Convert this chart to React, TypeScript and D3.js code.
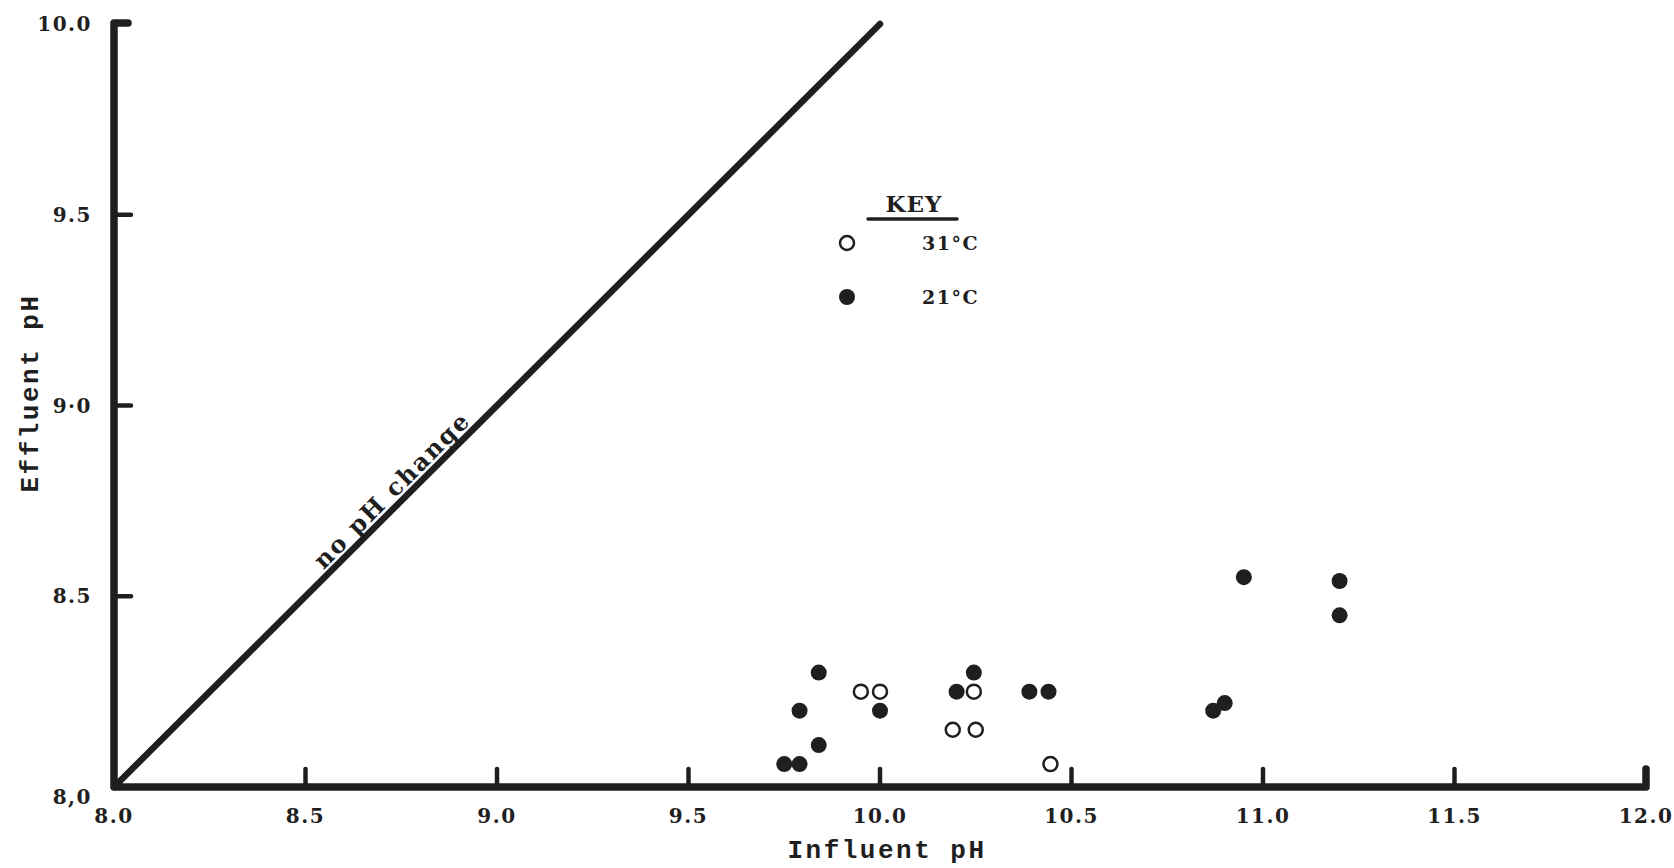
import React from "react";
import * as d3 from "d3";

// Influent vs effluent pH, two temperatures
const warmInfluent = [9.95, 10.0, 10.245, 10.19, 10.25, 10.445];
const warmEffluent = [8.25, 8.25, 8.25, 8.15, 8.15, 8.06];

const coolInfluent = [9.75, 9.79, 9.84, 9.79, 9.84, 10.0, 10.2, 10.245, 10.39, 10.44, 10.87, 10.9, 10.95, 11.2, 11.2];
const coolEffluent = [8.06, 8.06, 8.11, 8.2, 8.3, 8.2, 8.25, 8.3, 8.25, 8.25, 8.2, 8.22, 8.55, 8.54, 8.45];

const xTicks = [8.0, 8.5, 9.0, 9.5, 10.0, 10.5, 11.0, 11.5, 12.0];
const xTickLabels = ["8.0", "8.5", "9.0", "9.5", "10.0", "10.5", "11.0", "11.5", "12.0"];
const yTicks = [8.0, 8.5, 9.0, 9.5, 10.0];
const yTickLabels = ["8,0", "8.5", "9·0", "9.5", "10.0"];

const legendLabels = ["31°C", "21°C"];

const W = 1674;
const H = 868;
const INK = "#1f1f1f";
const SERIF = "'DejaVu Serif', 'Liberation Serif', serif";
const MONO = "'Liberation Mono', 'DejaVu Sans Mono', monospace";

export default function App() {
  const x = d3.scaleLinear().domain([8, 12]).range([114, 1646]);
  const y = d3.scaleLinear().domain([8, 10]).range([787, 24]);

  const axisPath = d3.path();
  axisPath.moveTo(x(8) + 14, y(10) - 1);
  axisPath.lineTo(x(8), y(10) - 1);
  axisPath.lineTo(x(8), y(8));
  axisPath.lineTo(x(12), y(8));
  axisPath.lineTo(x(12), y(8) - 18);

  const diag = d3.line<number>().x((v) => x(v)).y((v) => y(v));
  const labelAt = 8.75;

  return (
    <svg
      width={W}
      height={H}
      viewBox={`0 0 ${W} ${H}`}
      style={{ position: "absolute", left: 0, top: 0, background: "#fff" }}
    >
      <rect x={0} y={0} width={W} height={H} fill="#fff" />

      {/* no-change reference line */}
      <path d={diag([8, 10]) || ""} stroke={INK} strokeWidth={6.5} strokeLinecap="round" fill="none" />
      <g transform={`translate(${x(labelAt)},${y(labelAt)}) rotate(-45)`}>
        <text
          y={-6}
          textAnchor="middle"
          fontFamily={SERIF}
          fontSize={24}
          fontWeight={700}
          fill={INK}
          textLength={208}
          lengthAdjust="spacing"
        >
          no pH change
        </text>
      </g>

      {/* axes */}
      <path d={axisPath.toString()} stroke={INK} strokeWidth={7.5} fill="none" strokeLinejoin="round" strokeLinecap="round" />
      {xTicks.slice(1, -1).map((t) => (
        <line key={`xt${t}`} x1={x(t)} x2={x(t)} y1={y(8)} y2={y(8) - 18} stroke={INK} strokeWidth={4.5} strokeLinecap="round" />
      ))}
      {yTicks.slice(1, -1).map((t) => (
        <line key={`yt${t}`} x1={x(8)} x2={x(8) + 17} y1={y(t)} y2={y(t)} stroke={INK} strokeWidth={4.5} strokeLinecap="round" />
      ))}

      {/* tick labels */}
      {xTicks.map((t, i) => (
        <text
          key={`xl${t}`}
          x={x(t)}
          y={823}
          textAnchor="middle"
          fontFamily={SERIF}
          fontSize={20}
          fontWeight={700}
          letterSpacing={1.5}
          fill={INK}
        >
          {xTickLabels[i]}
        </text>
      ))}
      {yTicks.map((t, i) => (
        <text
          key={`yl${t}`}
          x={92}
          y={y(t) + (t === 8 ? 10 : 0)}
          dy="0.36em"
          textAnchor="end"
          fontFamily={SERIF}
          fontSize={20}
          fontWeight={700}
          letterSpacing={1.5}
          fill={INK}
        >
          {yTickLabels[i]}
        </text>
      ))}

      {/* axis titles */}
      <text
        x={887}
        y={858}
        textAnchor="middle"
        fontFamily={MONO}
        fontSize={26}
        fontWeight={700}
        letterSpacing={2.5}
        fill={INK}
      >
        Influent pH
      </text>
      <g transform="translate(38,393) rotate(-90)">
        <text
          textAnchor="middle"
          fontFamily={MONO}
          fontSize={26}
          fontWeight={700}
          letterSpacing={2.5}
          fill={INK}
        >
          Effluent pH
        </text>
      </g>

      {/* data */}
      {warmInfluent.map((v, i) => (
        <circle
          key={`w${i}`}
          cx={x(v)}
          cy={y(warmEffluent[i])}
          r={7}
          fill="#fff"
          stroke={INK}
          strokeWidth={2.5}
        />
      ))}
      {coolInfluent.map((v, i) => (
        <circle key={`c${i}`} cx={x(v)} cy={y(coolEffluent[i])} r={8} fill={INK} />
      ))}

      {/* key */}
      <text x={914} y={212} textAnchor="middle" fontFamily={SERIF} fontSize={23} fontWeight={700} fill={INK} letterSpacing={1}>
        KEY
      </text>
      <line x1={868} x2={957} y1={219} y2={219} stroke={INK} strokeWidth={3.5} strokeLinecap="round" />
      <circle cx={847} cy={243} r={7} fill="#fff" stroke={INK} strokeWidth={2.5} />
      <text x={922} y={243} dy="0.36em" fontFamily={SERIF} fontSize={19} fontWeight={700} letterSpacing={1.5} fill={INK}>
        {legendLabels[0]}
      </text>
      <circle cx={847} cy={297} r={8} fill={INK} />
      <text x={922} y={297} dy="0.36em" fontFamily={SERIF} fontSize={19} fontWeight={700} letterSpacing={1.5} fill={INK}>
        {legendLabels[1]}
      </text>
    </svg>
  );
}
